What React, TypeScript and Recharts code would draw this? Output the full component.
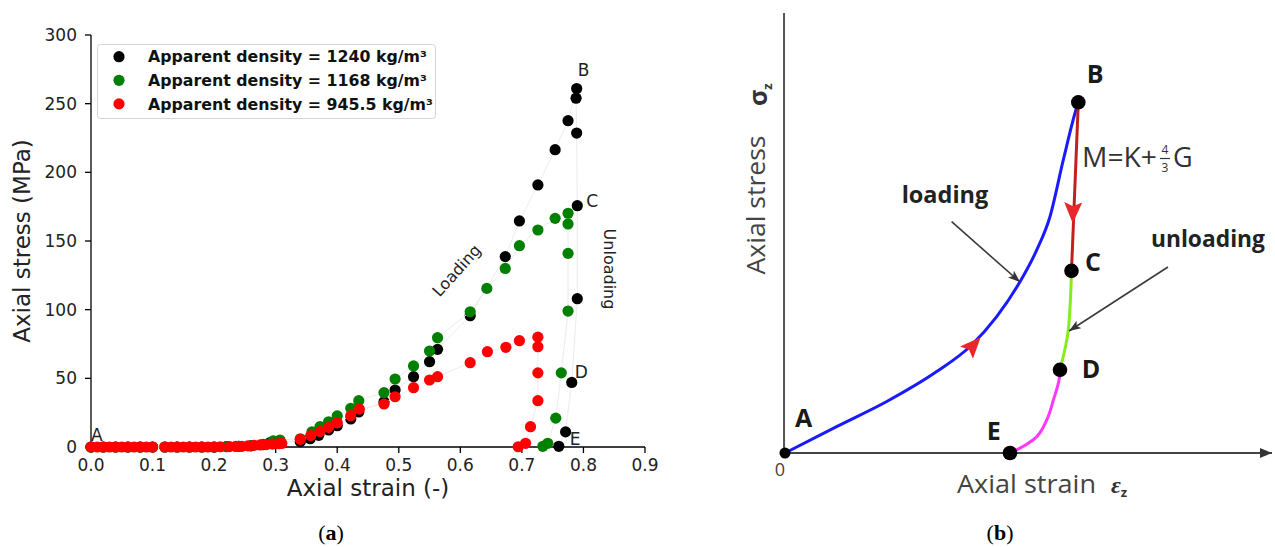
import React from 'react';
import {
  ScatterChart,
  Scatter,
  XAxis,
  YAxis,
  Legend,
  Label,
  ComposedChart,
  Line,
} from 'recharts';

// ---------- Panel (a): measured data ----------
const strainTicks = [0, 0.1, 0.2, 0.3, 0.4, 0.5, 0.6, 0.7, 0.8, 0.9];
const stressTicks = [0, 50, 100, 150, 200, 250, 300];

const seriesNames = [
  'Apparent density = 1240 kg/m³',
  'Apparent density = 1168 kg/m³',
  'Apparent density = 945.5 kg/m³',
];

const density1240: [number, number][] = [
  [0, 0], [0.02, 0], [0.04, 0], [0.06, 0], [0.08, 0], [0.1, 0], [0.12, 0], [0.14, 0],
  [0.16, 0], [0.18, 0], [0.2, 0], [0.22, 0.3], [0.24, 0.5], [0.26, 0.8], [0.28, 1.8],
  [0.29, 3], [0.296, 4.2],
  [0.34, 3.9], [0.356, 6], [0.37, 8.5], [0.386, 12.4], [0.4, 15.5], [0.422, 20.4],
  [0.435, 25.5], [0.476, 33], [0.494, 41.5], [0.524, 51.2], [0.55, 62.1], [0.563, 71.1],
  [0.616, 95.6], [0.673, 138.6], [0.696, 164.6], [0.726, 190.8], [0.754, 216.5],
  [0.775, 237.6], [0.789, 261], [0.788, 254], [0.789, 228.6], [0.79, 175.7], [0.79, 108],
  [0.781, 47], [0.771, 11], [0.76, 0.5],
];

const density1168: [number, number][] = [
  [0, 0], [0.02, 0], [0.04, 0], [0.06, 0], [0.08, 0], [0.1, 0], [0.12, 0], [0.14, 0],
  [0.16, 0], [0.18, 0], [0.2, 0], [0.22, 0.3], [0.24, 0.5], [0.26, 1], [0.28, 2],
  [0.296, 4.4], [0.307, 5.1],
  [0.34, 6], [0.359, 11.1], [0.372, 14.8], [0.386, 18.4], [0.4, 22.6], [0.422, 28.2],
  [0.435, 33.7], [0.476, 39.6], [0.494, 49.5], [0.524, 59], [0.55, 69.9], [0.563, 79.6],
  [0.616, 98.5], [0.643, 115.5], [0.673, 130], [0.696, 146.6], [0.726, 158],
  [0.754, 166.5], [0.775, 170.2], [0.775, 162.4], [0.775, 141], [0.775, 99],
  [0.764, 54], [0.755, 21], [0.742, 2.7], [0.734, 0.5],
];

const density945: [number, number][] = [
  [0, 0], [0.01, 0], [0.02, 0], [0.03, 0], [0.04, 0], [0.05, 0], [0.06, 0], [0.07, 0],
  [0.08, 0], [0.09, 0], [0.1, 0],
  [0.12, 0], [0.13, 0], [0.14, 0], [0.15, 0], [0.16, 0], [0.17, 0], [0.18, 0], [0.19, 0],
  [0.2, 0], [0.21, 0.2], [0.225, 0.3], [0.235, 0.4], [0.245, 0.5], [0.255, 0.8],
  [0.265, 1.2], [0.275, 1.5], [0.285, 1.8], [0.295, 2.1], [0.305, 2.4], [0.31, 2.6],
  [0.34, 5.6], [0.357, 8.3], [0.372, 11.3], [0.386, 14.3], [0.4, 17.6], [0.422, 22.8],
  [0.436, 27.6], [0.476, 31.3], [0.494, 36.6], [0.524, 43.2], [0.55, 48.8], [0.563, 51.2],
  [0.616, 61.4], [0.644, 69.4], [0.674, 72.6], [0.696, 77.4], [0.726, 80], [0.726, 73],
  [0.726, 54], [0.726, 33.7], [0.714, 14.8], [0.706, 2.7], [0.694, 0.2],
];

const annotationsA = [
  { x: 0.0, y: 4.4, text: 'A' },
  { x: 0.7906, y: 270, text: 'B' },
  { x: 0.8047, y: 174.8, text: 'C' },
  { x: 0.7857, y: 50, text: 'D' },
  { x: 0.7776, y: 1.5, text: 'E' },
  { x: 0.594, y: 128.5, text: 'Loading' },
  { x: 0.8425, y: 129.6, text: 'Unloading' },
];

// ---------- Panel (b): schematic curve (normalised strain / stress) ----------
const loadingAB: [number, number][] = [
  [0, 0], [0.106, 0.06], [0.209, 0.117], [0.3115, 0.185], [0.38, 0.242], [0.4347, 0.31],
  [0.4825, 0.389], [0.5168, 0.461], [0.5441, 0.537], [0.5715, 0.666], [0.5975, 0.78],
  [0.6023, 0.797],
];
const unloadingBC: [number, number][] = [[0.6023, 0.797], [0.5883, 0.414]];
const unloadingCD: [number, number][] = [[0.5883, 0.414], [0.5817, 0.28], [0.5647, 0.189]];
const unloadingDE: [number, number][] = [
  [0.5647, 0.189], [0.5633, 0.17], [0.551, 0.12], [0.5374, 0.075], [0.5099, 0.03],
  [0.4758, 0.007], [0.462, 0],
];
const axisStrain: [number, number][] = [[-0.002, 0], [1.0, 0]];
const axisStress: [number, number][] = [[-0.002, 0], [-0.002, 1.0]];
const loadArrow: [number, number][] = [[0.3593, 0.2125], [0.4018, 0.263]];
const unloadArrow: [number, number][] = [[0.5924, 0.5977], [0.5908, 0.522]];
const loadingPointer: [number, number][] = [[0.3422, 0.5257], [0.4825, 0.3886]];
const unloadingPointer: [number, number][] = [[0.7864, 0.4227], [0.5832, 0.2773]];
const originPoint: [number, number][] = [[0, 0]];
const keyPoints: [number, number][] = [[0.6023, 0.797], [0.5883, 0.414], [0.5647, 0.189], [0.462, 0]];

const labelsB = [
  { x: 0.0205, y: 0.0598, text: 'A' },
  { x: 0.6195, y: 0.8402, text: 'B' },
  { x: 0.616, y: 0.4136, text: 'C' },
  { x: 0.6092, y: 0.1705, text: 'D' },
  { x: 0.4142, y: 0.0295, text: 'E' },
  { x: 0.2396, y: 0.5675, text: 'loading' },
  { x: 0.7515, y: 0.4682, text: 'unloading' },
];

const pts = (arr: [number, number][]) => arr.map(([x, y]) => ({ x, y }));

const colors = ['#000000', '#008000', '#ff0000'];

// ---------- shapes ----------
const makeDot = (fill: string) => (p: any) =>
  <circle cx={p.cx} cy={p.cy} r={5.6} fill={fill} />;

const rotatedA: Record<string, number> = { Loading: -48, Unloading: 90 };

const AnnotA = (p: any) => {
  const { cx, cy, payload } = p;
  const rot = rotatedA[payload.text];
  if (rot !== undefined) {
    return (
      <text
        x={cx}
        y={cy}
        transform={`rotate(${rot} ${cx} ${cy})`}
        textAnchor="middle"
        dominantBaseline="central"
        fontFamily="DejaVu Sans"
        fontSize={16}
        fill="#222"
      >
        {payload.text}
      </text>
    );
  }
  return (
    <text x={cx} y={cy} fontFamily="DejaVu Sans" fontSize={17} fill="#222">
      {payload.text}
    </text>
  );
};

const wordLen: Record<string, number> = { loading: 86.6, unloading: 114 };

const AnnotB = (p: any) => {
  const { cx, cy, payload } = p;
  const len = wordLen[payload.text];
  if (len) {
    return (
      <text
        x={cx}
        y={cy}
        fontFamily="Open Sans"
        fontWeight={700}
        fontSize={23}
        fill="#222"
        textLength={len}
        lengthAdjust="spacingAndGlyphs"
      >
        {payload.text}
      </text>
    );
  }
  return (
    <text x={cx} y={cy} fontFamily="Open Sans" fontWeight={700} fontSize={25} fill="#1a1a1a">
      {payload.text}
    </text>
  );
};

const renderLegend = (props: any) => {
  const items = (props.payload || [])
    .filter((e: any) => seriesNames.indexOf(e.value) >= 0)
    .sort((a: any, b: any) => seriesNames.indexOf(a.value) - seriesNames.indexOf(b.value));
  return (
    <svg width={340} height={76} style={{ display: 'block' }}>
      <rect x={0.5} y={0.5} width={338} height={74} rx={3} fill="#ffffff" fillOpacity={0.85} stroke="#d4d4d4" />
      {items.map((e: any, i: number) => {
        const cy = 12.7 + i * 23.6;
        return (
          <g key={i}>
            <circle cx={22} cy={cy} r={5.6} fill={e.color} />
            <text
              x={51}
              y={cy + 5.7}
              fontFamily="DejaVu Sans"
              fontWeight="bold"
              fontSize={15.8}
              fill="#111"
            >
              {e.value}
            </text>
          </g>
        );
      })}
    </svg>
  );
};

const tickStyle = { fill: '#222', fontSize: 17, fontFamily: 'DejaVu Sans' };
const axisStroke = { stroke: '#000', strokeWidth: 1.3 };

const PanelA = () => (
  <ScatterChart width={680} height={547} margin={{ top: 35, right: 35, bottom: 40, left: 0 }}>
    <XAxis
      type="number"
      dataKey="x"
      domain={[0, 0.9]}
      ticks={strainTicks}
      interval={0}
      tickFormatter={(v: number) => v.toFixed(1)}
      height={60}
      tickSize={6}
      tickMargin={6}
      axisLine={axisStroke}
      tickLine={axisStroke}
      tick={tickStyle}
    >
      <Label
        value="Axial strain (-)"
        position="insideBottom"
        offset={11}
        style={{ fontSize: 23, fill: '#222', fontFamily: 'DejaVu Sans' }}
      />
    </XAxis>
    <YAxis
      type="number"
      dataKey="y"
      domain={[0, 300]}
      ticks={stressTicks}
      interval={0}
      width={91}
      tickSize={6}
      tickMargin={8}
      axisLine={axisStroke}
      tickLine={axisStroke}
      tick={tickStyle}
    >
      <Label
        value="Axial stress (MPa)"
        angle={-90}
        position="insideLeft"
        offset={22}
        style={{ fontSize: 23, fill: '#222', fontFamily: 'DejaVu Sans', textAnchor: 'middle' }}
      />
    </YAxis>
    <Legend
      layout="horizontal"
      verticalAlign="middle"
      align="center"
      wrapperStyle={{ left: 97, top: 44, width: 340, height: 76 }}
      content={renderLegend}
    />
    <Scatter
      name={seriesNames[0]}
      data={pts(density1240)}
      fill={colors[0]}
      line={{ stroke: '#ececec', strokeWidth: 1 }}
      lineType="joint"
      shape={makeDot(colors[0])}
      isAnimationActive={false}
    />
    <Scatter
      name={seriesNames[1]}
      data={pts(density1168)}
      fill={colors[1]}
      line={{ stroke: '#ececec', strokeWidth: 1 }}
      lineType="joint"
      shape={makeDot(colors[1])}
      isAnimationActive={false}
    />
    <Scatter
      name={seriesNames[2]}
      data={pts(density945)}
      fill={colors[2]}
      line={{ stroke: '#ececec', strokeWidth: 1 }}
      lineType="joint"
      shape={makeDot(colors[2])}
      isAnimationActive={false}
    />
    <Scatter
      name="annotations"
      data={annotationsA}
      legendType="none"
      shape={AnnotA}
      isAnimationActive={false}
    />
  </ScatterChart>
);

const lineCommon = { dataKey: 'y', dot: false, activeDot: false, isAnimationActive: false } as const;

const PanelB = () => (
  <ComposedChart width={595} height={547} margin={{ top: 0, right: 0, bottom: 0, left: 0 }}>
    <XAxis type="number" dataKey="x" domain={[-0.2156, 1.0062]} allowDataOverflow hide />
    <YAxis type="number" dataKey="y" domain={[-0.2136, 1.0295]} allowDataOverflow hide />
    <Line {...lineCommon} data={pts(axisStress)} type="linear" stroke="#555" strokeWidth={2} />
    <Line
      {...lineCommon}
      data={pts(axisStrain)}
      type="linear"
      stroke="#444"
      strokeWidth={2}
      markerEnd="url(#headAxis)"
    />
    <Line {...lineCommon} data={pts(loadingAB)} type="monotoneX" stroke="#1a1aff" strokeWidth={3} />
    <Line {...lineCommon} data={pts(unloadingBC)} type="linear" stroke="#c41e1e" strokeWidth={3} />
    <Line {...lineCommon} data={pts(unloadingCD)} type="monotoneY" stroke="#86ec1c" strokeWidth={3} />
    <Line {...lineCommon} data={pts(unloadingDE)} type="monotoneY" stroke="#ff38ff" strokeWidth={3} />
    <Line {...lineCommon} data={pts(loadArrow)} type="linear" stroke="none" markerEnd="url(#headRed)" />
    <Line {...lineCommon} data={pts(unloadArrow)} type="linear" stroke="none" markerEnd="url(#headRed)" />
    <Line
      {...lineCommon}
      data={pts(loadingPointer)}
      type="linear"
      stroke="#3a3a3a"
      strokeWidth={1.6}
      markerEnd="url(#headBlack)"
    />
    <Line
      {...lineCommon}
      data={pts(unloadingPointer)}
      type="linear"
      stroke="#3a3a3a"
      strokeWidth={1.6}
      markerEnd="url(#headBlack)"
    />
    <Scatter
      data={pts(originPoint)}
      dataKey="y"
      shape={(p: any) => <circle cx={p.cx} cy={p.cy} r={5.5} fill="#000" />}
      isAnimationActive={false}
    />
    <Scatter
      data={pts(keyPoints)}
      dataKey="y"
      shape={(p: any) => <circle cx={p.cx} cy={p.cy} r={7.3} fill="#000" />}
      isAnimationActive={false}
    />
    <Scatter data={labelsB} dataKey="y" shape={AnnotB} isAnimationActive={false} />
  </ComposedChart>
);

export default function App() {
  return (
    <div style={{ position: 'absolute', left: 0, top: 0, width: 1275, height: 547, background: '#fff', overflow: 'hidden' }}>
      <svg width={0} height={0} style={{ position: 'absolute' }}>
        <defs>
          <marker id="headRed" viewBox="0 0 21 18" refX={21} refY={9} markerWidth={21} markerHeight={18} markerUnits="userSpaceOnUse" orient="auto">
            <path d="M0,0 L21,9 L0,18 L4,9 Z" fill="#e8282b" />
          </marker>
          <marker id="headBlack" viewBox="0 0 12 9" refX={12} refY={4.5} markerWidth={12} markerHeight={9} markerUnits="userSpaceOnUse" orient="auto">
            <path d="M0,0 L12,4.5 L0,9 L3,4.5 Z" fill="#333" />
          </marker>
          <marker id="headAxis" viewBox="0 0 12 10" refX={12} refY={5} markerWidth={12} markerHeight={10} markerUnits="userSpaceOnUse" orient="auto">
            <path d="M0,0 L12,5 L0,10 Z" fill="#333" />
          </marker>
        </defs>
      </svg>
      <div style={{ position: 'absolute', left: 0, top: 0 }}>
        <PanelA />
      </div>
      <div style={{ position: 'absolute', left: 680, top: 0 }}>
        <PanelB />
      </div>
      <svg width={1275} height={547} style={{ position: 'absolute', left: 0, top: 0, pointerEvents: 'none' }}>
        <g transform="translate(765 205) rotate(-90)">
          <text x={0} y={0} textAnchor="middle" fontFamily="Open Sans" fontSize={26} fill="#444" textLength={139} lengthAdjust="spacingAndGlyphs">
            Axial stress
          </text>
        </g>
        <g transform="translate(767 106) rotate(-90)">
          <text x={0} y={0} fontFamily="Open Sans" fontWeight={700} fontSize={25} fill="#333">
            σ<tspan fontSize={13} dy={5}>z</tspan>
          </text>
        </g>
        <text x={957} y={493} fontFamily="Open Sans" fontSize={26} fill="#444" textLength={139} lengthAdjust="spacingAndGlyphs">
          Axial strain
        </text>
        <text x={1111} y={493} fontFamily="Liberation Serif" fontStyle="italic" fontWeight={700} fontSize={24} fill="#333">
          ε<tspan fontSize={13} dy={4} fontStyle="normal" fontFamily="Open Sans">z</tspan>
        </text>
        <text x={780} y={476} textAnchor="middle" fontFamily="Open Sans" fontSize={18} fill="#444">0</text>
        <text x={1082} y={167} fontFamily="Open Sans" fontSize={27} fill="#333" textLength={75} lengthAdjust="spacingAndGlyphs">
          M=K+
        </text>
        <text x={1165} y={154} textAnchor="middle" fontFamily="Open Sans" fontSize={12} fill="#333">4</text>
        <line x1={1160} y1={158.5} x2={1170} y2={158.5} stroke="#333" strokeWidth={1.2} />
        <text x={1165} y={172} textAnchor="middle" fontFamily="Open Sans" fontSize={12} fill="#333">3</text>
        <text x={1173} y={167} fontFamily="Open Sans" fontSize={27} fill="#333">G</text>
        <text x={331} y={540} textAnchor="middle" fontFamily="Liberation Serif" fontSize={22} fill="#000">
          (<tspan fontWeight={700}>a</tspan>)
        </text>
        <text x={1000} y={540} textAnchor="middle" fontFamily="Liberation Serif" fontSize={22} fill="#000">
          (<tspan fontWeight={700}>b</tspan>)
        </text>
      </svg>
    </div>
  );
}
